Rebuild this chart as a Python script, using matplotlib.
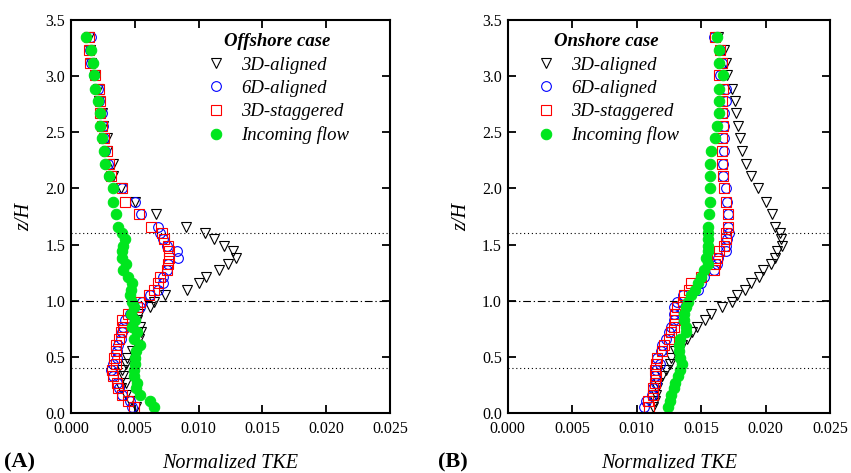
import numpy as np
import matplotlib
matplotlib.use("Agg")
import matplotlib.pyplot as plt

plt.rcParams["font.family"] = ["Liberation Serif", "DejaVu Serif"]
plt.rcParams["mathtext.fontset"] = "stix"

# ── profile heights (z/H) ────────────────────────────────────────────────────
z = [3.345, 3.23, 3.12, 3.01, 2.89, 2.78, 2.67, 2.56, 2.45, 2.33, 2.22, 2.11,
     2.00, 1.88, 1.77, 1.66, 1.605, 1.55, 1.49, 1.44, 1.38, 1.33, 1.27, 1.21,
     1.16, 1.10, 1.05, 0.99, 0.94, 0.88, 0.83, 0.77, 0.72, 0.66, 0.61, 0.55,
     0.49, 0.44, 0.38, 0.33, 0.27, 0.22, 0.16, 0.11, 0.05]

# ── offshore case: normalized TKE ────────────────────────────────────────────
off_3d_aligned = [0.0014, 0.0015, 0.0016, 0.0019, 0.0021, 0.0022, 0.0024,
                  0.0025, 0.0028, 0.0028, 0.0033, 0.0033, 0.0039, 0.0050,
                  0.0067, 0.0090, 0.0105, 0.0112, 0.0120, 0.0127, 0.0129,
                  0.0123, 0.0116, 0.0106, 0.0100, 0.0091, 0.0074, 0.0065,
                  0.0062, 0.0053, 0.0052, 0.0054, 0.0055, 0.0053, 0.0052,
                  0.0048, 0.0044, 0.0043, 0.0040, 0.0041, 0.0043, 0.0039,
                  0.0043, 0.0046, 0.0051]
off_6d_aligned = [0.0016, 0.0015, 0.0016, 0.0018, 0.0021, 0.0022, 0.0024,
                  0.0025, 0.0026, 0.0027, 0.0029, 0.0030, 0.0040, 0.0050,
                  0.0055, 0.0068, 0.0070, 0.0072, 0.0075, 0.0083, 0.0084,
                  0.0076, 0.0075, 0.0072, 0.0072, 0.0068, 0.0062, 0.0056,
                  0.0054, 0.0046, 0.0042, 0.0041, 0.0040, 0.0039, 0.0037,
                  0.0036, 0.0036, 0.0033, 0.0031, 0.0033, 0.0036, 0.0038,
                  0.0040, 0.0046, 0.0048]
off_3d_staggered = [0.0014, 0.0014, 0.0015, 0.0019, 0.0022, 0.0023, 0.0023,
                    0.0024, 0.0026, 0.0028, 0.0030, 0.0031, 0.0040, 0.0042,
                    0.0053, 0.0063, 0.0071, 0.0073, 0.0076, 0.0077, 0.0077,
                    0.0076, 0.0075, 0.0070, 0.0068, 0.0065, 0.0061, 0.0054,
                    0.0052, 0.0045, 0.0040, 0.0041, 0.0039, 0.0038, 0.0035,
                    0.0035, 0.0034, 0.0035, 0.0032, 0.0033, 0.0036, 0.0037,
                    0.0040, 0.0045, 0.0049]
off_incoming = [0.0012, 0.0016, 0.0017, 0.0018, 0.0019, 0.0021, 0.0023,
                0.0023, 0.0024, 0.0026, 0.0027, 0.0030, 0.0033, 0.0033,
                0.0035, 0.0037, 0.0040, 0.0042, 0.0041, 0.0040, 0.0040,
                0.0043, 0.0041, 0.0045, 0.0048, 0.0047, 0.0046, 0.0048,
                0.0049, 0.0047, 0.0050, 0.0048, 0.0052, 0.0049, 0.0054,
                0.0051, 0.0050, 0.0050, 0.0049, 0.0049, 0.0052, 0.0051,
                0.0054, 0.0062, 0.0065]

# ── onshore case: normalized TKE ─────────────────────────────────────────────
on_3d_aligned = [0.0163, 0.0168, 0.0169, 0.0170, 0.0174, 0.0176, 0.0177,
                 0.0179, 0.0180, 0.0182, 0.0185, 0.0189, 0.0194, 0.0200,
                 0.0205, 0.0207, 0.0211, 0.0212, 0.0213, 0.0209, 0.0207,
                 0.0204, 0.0198, 0.0195, 0.0189, 0.0184, 0.0178, 0.0174,
                 0.0166, 0.0158, 0.0153, 0.0147, 0.0143, 0.0139, 0.0135,
                 0.0130, 0.0127, 0.0126, 0.0123, 0.0120, 0.0117, 0.0116,
                 0.0115, 0.0114, 0.0113]
on_6d_aligned = [0.0160, 0.0165, 0.0166, 0.0165, 0.0169, 0.0169, 0.0168,
                 0.0168, 0.0168, 0.0168, 0.0167, 0.0167, 0.0169, 0.0170,
                 0.0171, 0.0171, 0.0172, 0.0170, 0.0169, 0.0169, 0.0163,
                 0.0162, 0.0160, 0.0152, 0.0150, 0.0148, 0.0136, 0.0131,
                 0.0129, 0.0129, 0.0129, 0.0127, 0.0125, 0.0123, 0.0120,
                 0.0119, 0.0116, 0.0118, 0.0115, 0.0114, 0.0115, 0.0113,
                 0.0112, 0.0107, 0.0106]
on_3d_staggered = [0.0161, 0.0165, 0.0166, 0.0164, 0.0167, 0.0166, 0.0166,
                   0.0167, 0.0166, 0.0166, 0.0166, 0.0167, 0.0168, 0.0169,
                   0.0171, 0.0171, 0.0169, 0.0169, 0.0168, 0.0164, 0.0162,
                   0.0161, 0.0160, 0.0150, 0.0142, 0.0141, 0.0137, 0.0136,
                   0.0131, 0.0130, 0.0130, 0.0129, 0.0127, 0.0125, 0.0121,
                   0.0120, 0.0116, 0.0115, 0.0114, 0.0115, 0.0114, 0.0113,
                   0.0113, 0.0109, 0.0110]
on_incoming = [0.0162, 0.0164, 0.0164, 0.0167, 0.0164, 0.0164, 0.0164,
               0.0162, 0.0161, 0.0158, 0.0157, 0.0157, 0.0157, 0.0157,
               0.0156, 0.0155, 0.0155, 0.0155, 0.0155, 0.0155, 0.0154,
               0.0155, 0.0152, 0.0150, 0.0148, 0.0145, 0.0142, 0.0140,
               0.0138, 0.0137, 0.0137, 0.0138, 0.0138, 0.0134, 0.0133,
               0.0133, 0.0134, 0.0135, 0.0134, 0.0132, 0.0130, 0.0129,
               0.0127, 0.0126, 0.0124]

series_labels = ["3D-aligned", "6D-aligned", "3D-staggered", "Incoming flow"]

# rotor top / hub / rotor bottom heights
rotor_top, hub, rotor_bottom = 1.6, 1.0, 0.4


def draw_panel(ax, profiles, case_title, legend_anchor):
    styles = [
        dict(marker="v", ms=7.5, mfc="none", mec="black", mew=0.8),
        dict(marker="o", ms=7, mfc="none", mec="blue", mew=0.8),
        dict(marker="s", ms=6.5, mfc="none", mec="red", mew=0.8),
        dict(marker="o", ms=7.5, mfc="#00e61e", mec="#00e61e", mew=0.8),
    ]
    for vals, lbl, st in zip(profiles, series_labels, styles):
        ax.plot(vals, z, ls="none", label=lbl, **st)

    ax.axhline(rotor_top, color="black", lw=0.8, ls=(0, (1, 2.5)))
    ax.axhline(hub, color="black", lw=0.8, ls=(0, (7, 2.5, 1.2, 2.5)))
    ax.axhline(rotor_bottom, color="black", lw=0.8, ls=(0, (1, 2.5)))

    ax.set_xlim(0, 0.025)
    ax.set_ylim(0, 3.5)
    ax.set_xticks([0.0, 0.005, 0.010, 0.015, 0.020, 0.025])
    ax.set_xticklabels(["0.000", "0.005", "0.010", "0.015", "0.020", "0.025"])
    ax.set_yticks(np.arange(0, 3.51, 0.5))
    ax.set_yticklabels([f"{v:.1f}" for v in np.arange(0, 3.51, 0.5)])
    ax.tick_params(direction="in", top=True, right=True, length=6, width=1.3,
                   labelsize=11.5)
    ax.tick_params(axis="x", pad=6)
    ax.tick_params(axis="y", pad=4)
    for sp in ax.spines.values():
        sp.set_linewidth(1.5)

    ax.set_xlabel("Normalized TKE", fontsize=14.5, style="italic", labelpad=12)
    ax.set_ylabel("z/H", fontsize=14.5, style="italic", labelpad=8)

    leg = ax.legend(loc="upper left", bbox_to_anchor=legend_anchor,
                    frameon=False, prop=dict(size=13.5, style="italic"),
                    title=case_title,
                    title_fontproperties=dict(size=13.5, style="italic",
                                              weight="bold"),
                    handletextpad=0.75, labelspacing=0.33, borderaxespad=0,
                    handlelength=1.2)
    return leg


fig = plt.figure(figsize=(8.51, 4.73), dpi=100)
ax_a = fig.add_axes([0.0834, 0.1268, 0.3749, 0.8309])
ax_b = fig.add_axes([0.5964, 0.1268, 0.3790, 0.8309])

draw_panel(ax_a, [off_3d_aligned, off_6d_aligned, off_3d_staggered, off_incoming],
           "Offshore case", (0.395, 0.985))
draw_panel(ax_b, [on_3d_aligned, on_6d_aligned, on_3d_staggered, on_incoming],
           "Onshore case", (0.06, 0.985))

fig.text(0.005, 0.012, "(A)", fontsize=16, weight="bold")
fig.text(0.515, 0.012, "(B)", fontsize=16, weight="bold")

fig.savefig("out.png", dpi=100)
plt.close(fig)
